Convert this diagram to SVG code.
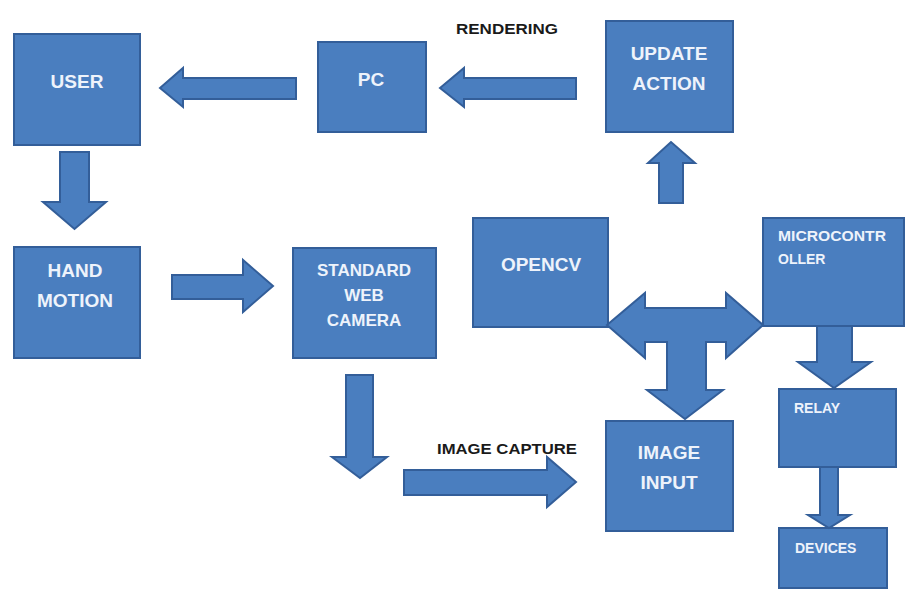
<svg xmlns="http://www.w3.org/2000/svg" width="918" height="590" viewBox="0 0 918 590">
<style>
.box{fill:#4a7ebf;stroke:#335e99;stroke-width:2}
.arr{fill:#4a7ebf;stroke:#335e99;stroke-width:2;stroke-linejoin:miter}
.t{font-family:"Liberation Sans",Arial,sans-serif;font-weight:bold;fill:#eef3fb;font-size:19px;text-anchor:middle}
.s{font-family:"Liberation Sans",Arial,sans-serif;font-weight:bold;fill:#eef3fb;font-size:14px}
.lbl{font-family:"Liberation Sans",Arial,sans-serif;font-weight:bold;fill:#1a1a1a;font-size:14px}
</style>
<rect width="918" height="590" fill="#ffffff"/>
<g id="user"><rect class="box" x="14" y="34" width="126" height="111"/><text class="t" x="77" y="88">USER</text></g>
<g id="pc"><rect class="box" x="318" y="42" width="108" height="90"/><text class="t" x="371" y="86">PC</text></g>
<g id="update-action"><rect class="box" x="606" y="21" width="127" height="111"/><text class="t" x="669" y="60">UPDATE</text><text class="t" x="669" y="90">ACTION</text></g>
<g id="hand-motion"><rect class="box" x="14" y="247" width="126" height="111"/><text class="t" x="75" y="277">HAND</text><text class="t" x="75" y="307">MOTION</text></g>
<g id="camera"><rect class="box" x="293" y="248" width="143" height="110"/><text class="t" x="364" y="276" style="font-size:17px">STANDARD</text><text class="t" x="364" y="301" style="font-size:17px">WEB</text><text class="t" x="364" y="326" style="font-size:17px">CAMERA</text></g>
<g id="opencv"><rect class="box" x="473" y="218" width="135" height="109"/><text class="t" x="541" y="271">OPENCV</text></g>
<g id="microcontroller"><rect class="box" x="763" y="218" width="141" height="108"/><text class="s" x="778" y="241" textLength="108" lengthAdjust="spacingAndGlyphs">MICROCONTR</text><text class="s" x="778" y="264">OLLER</text></g>
<g id="image-input"><rect class="box" x="606" y="421" width="127" height="110"/><text class="t" x="669" y="459">IMAGE</text><text class="t" x="669" y="489">INPUT</text></g>
<g id="relay"><rect class="box" x="779" y="389" width="117" height="78"/><text class="s" x="794" y="413">RELAY</text></g>
<g id="devices"><rect class="box" x="779" y="528" width="108" height="60"/><text class="s" x="795" y="553">DEVICES</text></g>
<g id="connectors">
<polygon class="arr" points="160,88 183,68 183,78 296,78 296,99 183,99 183,107"/>
<polygon class="arr" points="440,88 464,68 464,78 576,78 576,99 464,99 464,107"/>
<polygon class="arr" points="60,152 89,152 89,202 106,202 74.5,229 43,202 60,202"/>
<polygon class="arr" points="172,275 243,275 243,260 273,286 243,312 243,299 172,299"/>
<polygon class="arr" points="346,375 373,375 373,457 387,457 360,478 332,457 346,457"/>
<polygon class="arr" points="404,470 547,470 547,457 576,482 547,507 547,495 404,495"/>
<polygon class="arr" points="659,203 659,163 648,163 671,142 695,163 683,163 683,203"/>
<polygon class="arr" points="607,325 645,293 645,308 726,308 726,293 763,325 726,358 726,342 706,342 706,390 723,390 685,419 647,390 667,390 667,342 645,342 645,358"/>
<polygon class="arr" points="817,326 852,326 852,362 871,362 834,388 798,362 817,362"/>
<polygon class="arr" points="820,467 838,467 838,515 850,515 829,528 808,515 820,515"/>
</g>
<text class="lbl" x="456" y="34" textLength="102" lengthAdjust="spacingAndGlyphs">RENDERING</text>
<text class="lbl" x="437" y="454" textLength="140" lengthAdjust="spacingAndGlyphs" style="font-size:15px">IMAGE CAPTURE</text>
</svg>
